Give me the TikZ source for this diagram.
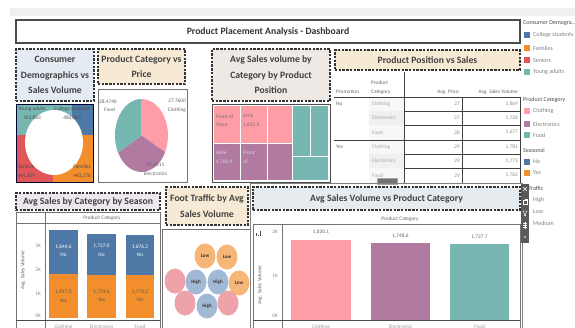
\documentclass[tikz,border=0pt]{standalone}
\usepackage{fontspec}
\setmainfont{Carlito}
\usetikzlibrary{shapes.geometric}
\newcommand\myfs[2]{\fontsize{#1}{#2}\selectfont}
\definecolor{tblue}{HTML}{4E79A7}
\definecolor{torange}{HTML}{F28E2B}
\definecolor{tred}{HTML}{E15759}
\definecolor{tteal}{HTML}{76B7B2}
\definecolor{tpink}{HTML}{FF9DA7}
\definecolor{tpurple}{HTML}{B07AA1}
\definecolor{fblue}{HTML}{E4EBF3}
\definecolor{fbeige}{HTML}{F7EAD5}
\definecolor{fgrey}{HTML}{EEE9E5}
\definecolor{flav}{HTML}{EFE7EE}
\definecolor{fsky}{HTML}{E6EBF0}
\definecolor{bor}{HTML}{F5B677}
\definecolor{bbl}{HTML}{A2B9D5}
\definecolor{bpk}{HTML}{EDA3A9}
\begin{document}
\begin{tikzpicture}[x=1pt,y=-1pt,
  ttl/.style={draw=black!80, line width=1.2pt, dash pattern=on 2.4pt off 1.3pt, inner sep=0pt, align=center, font=\bfseries\myfs{9.7}{15.5}, text=black!75},
  panel/.style={draw=black!55, line width=0.7pt},
  txt/.style={inner sep=0pt, font=\myfs{5.3}{6}, text=black!60},
  tb/.style={inner sep=0pt, font=\myfs{5.3}{9}, text=black!60},
  tcat/.style={inner sep=0pt, font=\myfs{5.3}{9}, text=black!35, anchor=west},
  tval/.style={inner sep=0pt, font=\myfs{5.3}{9}, text=black!45, anchor=east},
  lg/.style={inner sep=0pt, font=\myfs{6}{7}, text=black!50, anchor=west},
  lgt/.style={inner sep=0pt, font=\myfs{6}{7}, text=black!70, anchor=west},
  dl/.style={inner sep=0pt, font=\myfs{5.3}{8.5}, text=black!70, align=center},
  bub/.style={ellipse, minimum width=21pt, minimum height=25pt, inner sep=0pt, font=\bfseries\myfs{5}{5.5}, text=black!80},
  grid/.style={draw=black!75, line width=0.6pt}
]
\useasboundingbox (0,0) rectangle (575,327);
\fill[white] (0,0) rectangle (575,327);
% top band
\fill[black!6] (10,8) rectangle (575,16);

% main title
\node[draw=black!70, line width=1.1pt, fill=white, minimum width=504pt, minimum height=23pt, inner sep=0pt, font=\bfseries\myfs{9.7}{10}, text=black!80] (main) at (268,31.5) {Product Placement Analysis - Dashboard};

% section titles
\node[ttl, fill=fblue, minimum width=78pt, minimum height=52pt] (cdem) at (55,75) {Consumer\\Demographics vs\\Sales Volume};
\node[ttl, fill=fbeige, minimum width=87pt, minimum height=35pt] (pcp) at (141.5,66.5) {Product Category vs\\Price};
\node[ttl, fill=fgrey, minimum width=118pt, minimum height=52pt] (asv) at (271,75) {Avg Sales volume by\\Category by Product\\Position};
\node[ttl, fill=fbeige, minimum width=185pt, minimum height=20pt] (pps) at (427.5,60) {Product Position vs Sales};
\node[ttl, fill=flav, minimum width=144pt, minimum height=17pt] (ascs) at (88,201.5) {Avg Sales by Category by Season};
\node[ttl, fill=fbeige, minimum width=82pt, minimum height=38pt] (ftv) at (207,206) {Foot Traffic by Avg\\Sales Volume};

% ---------- donut ----------
\fill[tteal] (16,104) rectangle (72,135);
\fill[tblue] (72,104) rectangle (93,137);
\fill[tred] (16,135) rectangle (53,182);
\fill[torange] (53,137) rectangle (93,182);
\fill[torange] (72,135) rectangle (93,137);
\fill[white] (54,142.5) ellipse [x radius=29, y radius=32.5];
\draw[draw=black!80!blue, line width=0.9pt] (16,104) rectangle (93,182);
\node[dl] (d1) at (32,113.5) {Young adults\\421,883};
\node[dl] (d2) at (72,113.5) {College students\\450,063};
\node[dl] (d3) at (26,171.5) {Seniors\\444,389};
\node[dl] (d4) at (82,171.5) {Families\\443,276};

% ---------- pie ----------
\draw[panel] (98,89) rectangle (187,182);
\fill[tpink] (141.5,135.5) -- ++(-90:26.5 and 36.5) arc[start angle=-90, end angle=27, x radius=26.5, y radius=36.5] -- cycle;
\fill[tpurple] (141.5,135.5) -- ++(27:26.5 and 36.5) arc[start angle=27, end angle=152, x radius=26.5, y radius=36.5] -- cycle;
\fill[tteal] (141.5,135.5) -- ++(152:26.5 and 36.5) arc[start angle=152, end angle=270, x radius=26.5, y radius=36.5] -- cycle;
\node[dl, align=left, anchor=west, text=black!60] (p1) at (99,105.5) {28.4740\\\hspace*{5pt}Food};
\node[dl, align=right, anchor=east, text=black!60] (p2) at (186,105.5) {27.7600\\Clothing};
\node[dl, text=black!60] (p3) at (155.5,169.5) {27.4511\\Electronics};

% ---------- treemap ----------
\draw[draw=black!70, line width=0.8pt] (212,104) rectangle (330,182);
\fill[tpink] (214,106) rectangle (292,143);
\fill[tpurple] (214,143) rectangle (292,180);
\fill[tteal] (292,106) rectangle (328,180);
\draw[white, line width=0.6pt] (214,143) -- (292,143) (240,106) -- (240,180) (267,106) -- (267,180) (292,106) -- (292,180) (310,106) -- (310,156) (292,156) -- (328,156);
\node[dl, align=left, anchor=west, text=black!55] (t1) at (216,120.5) {Front of\\Store};
\node[dl, align=left, anchor=west, text=black!55] (t2) at (243,120.5) {Aisle\\1,832.8};
\node[dl, align=left, anchor=west, text=white!85!black] (t3) at (216,157.5) {Aisle\\1,760.9};
\node[dl, align=left, anchor=west, text=white!85!black] (t4) at (243,157.5) {Front\\of};

% ---------- table ----------
\fill[black!6] (369,111) rectangle (404,125);
\fill[black!6] (369,154) rectangle (404,168);
\fill[black!3] (369,97) rectangle (404,111);
\fill[black!3] (369,125) rectangle (404,140);
\fill[black!3] (369,140) rectangle (404,154);
\fill[black!3] (369,168) rectangle (404,183);
\draw[grid] (404,72) -- (404,183);
\draw[grid] (334,97) -- (520,97);
\draw[grid, line width=0.9pt] (334,140) -- (520,140);
\draw[grid] (404,111) -- (520,111) (404,125) -- (520,125) (404,154) -- (520,154) (404,168) -- (520,168) (404,183) -- (520,183);
\draw[grid] (462,97) -- (462,183) (520,97) -- (520,183);
\node[tb, anchor=west] (hprom) at (336,92) {Promotion};
\node[tb, anchor=west, align=left] (hcat) at (371,87.5) {Product\\Category};
\node[tb, anchor=east] (hpr) at (459,92) {Avg. Price};
\node[tb, anchor=east] (hvol) at (518,92) {Avg. Sales Volume};
\node[tb, anchor=west] (pno) at (336,103.5) {No};
\node[tb, anchor=west] (pyes) at (336,147) {Yes};
\node[tcat] (c1) at (372,104) {Clothing};
\node[tcat] (c2) at (372,118) {Electronics};
\node[tcat] (c3) at (372,132.5) {Food};
\node[tcat] (c4) at (372,147) {Clothing};
\node[tcat] (c5) at (372,161) {Electronics};
\node[tcat] (c6) at (372,175.5) {Food};
\node[tval] (v1) at (460,104) {27};
\node[tval] (v2) at (460,118) {27};
\node[tval] (v3) at (460,132.5) {28};
\node[tval] (v4) at (460,147) {29};
\node[tval] (v5) at (460,161) {29};
\node[tval] (v6) at (460,175.5) {29};
\node[tval] (w1) at (518,104) {1,869};
\node[tval] (w2) at (518,118) {1,726};
\node[tval] (w3) at (518,132.5) {1,677};
\node[tval] (w4) at (518,147) {1,781};
\node[tval] (w5) at (518,161) {1,773};
\node[tval] (w6) at (518,175.5) {1,762};
\draw[fill=black!55, draw=black!35, line width=0.5pt] (377,178.5) rectangle (397,184);

% ---------- legend ----------
\node[lgt] (lgh1) at (523,23) {Consumer Demogra..};
\fill[tblue] (524,32) rectangle (530,38);   \node[lg] (lg1) at (533,35) {College students};
\fill[torange] (524,45) rectangle (530,51); \node[lg] (lg2) at (533,48) {Families};
\fill[tred] (524,57) rectangle (530,63);    \node[lg] (lg3) at (533,60) {Seniors};
\fill[tteal] (524,69) rectangle (530,75);   \node[lg] (lg4) at (533,72) {Young adults};
\node[lgt] (lgh2) at (523,100) {Product Category};
\fill[tpink] (524,108) rectangle (530,114);   \node[lg] (lg5) at (533,111) {Clothing};
\fill[tpurple] (524,121) rectangle (530,127); \node[lg] (lg6) at (533,124) {Electronics};
\fill[tteal] (524,132) rectangle (530,138);   \node[lg] (lg7) at (533,135) {Food};
\node[lgt] (lgh3) at (523,150) {Seasonal};
\fill[tblue] (524,159) rectangle (530,165);   \node[lg] (lg8) at (533,162) {No};
\fill[torange] (524,170) rectangle (530,176); \node[lg] (lg9) at (533,173) {Yes};
\node[lgt] (lgh4) at (516,188) {Foot Traffic};
\node[lg] (lg10) at (533,200) {High};
\node[lg] (lg11) at (533,212) {Low};
\node[lg] (lg12) at (533,223) {Medium};

% ---------- bottom left: stacked bars ----------
\draw[panel] (16,212) rectangle (160,330);
\draw[panel] (16,223) -- (160,223) (45,212) -- (45,330);
\draw[draw=black!70, line width=0.7pt] (16,320) -- (160,320);
\node[txt] (bl0) at (102,218) {Product Category};
\node[txt, rotate=90] (bly) at (23,270) {Avg. Sales Volume};
\node[txt, anchor=east, text=black!45] (bk3) at (41,246) {3K};
\node[txt, anchor=east, text=black!45] (bk2) at (41,270) {2K};
\node[txt, anchor=east, text=black!45] (bk1) at (41,294) {1K};
\node[txt, anchor=east, text=black!45] (bk0) at (41,316) {0K};
\fill[torange] (49,274.4) rectangle (78,318);
\fill[tblue] (49,229.5) rectangle (78,274.4);
\fill[torange] (87,275.4) rectangle (116,318);
\fill[tblue] (87,233.5) rectangle (116,275.4);
\fill[torange] (126,275.4) rectangle (154,318);
\fill[tblue] (126,234.5) rectangle (154,275.4);
\node[dl, text=white] (s1) at (63.5,250.5) {1,844.6\\No};
\node[dl, text=white] (s2) at (101.5,250.5) {1,727.0\\No};
\node[dl, text=white] (s3) at (140,250.5) {1,676.2\\No};
\node[dl, text=black!65] (s4) at (63.5,296) {1,817.3\\Yes};
\node[dl, text=black!65] (s5) at (101.5,296) {1,774.0\\Yes};
\node[dl, text=black!65] (s6) at (140,296) {1,773.2\\Yes};
\node[txt, anchor=north, text=black!40] (sx1) at (63.5,324.5) {Clothing};
\node[txt, anchor=north, text=black!40] (sx2) at (101.5,324.5) {Electronics};
\node[txt, anchor=north, text=black!40] (sx3) at (140,324.5) {Food};

% ---------- bubbles ----------
\draw[panel] (162,229) rectangle (250,330);
\node[bub, fill=bor] (b1) at (205,256) {Low};
\node[bub, fill=bor] (b2) at (227,257) {Low};
\node[bub, fill=bpk] (b3) at (175,281) {};
\node[bub, fill=bbl] (b4) at (196,282) {High};
\node[bub, fill=bbl] (b5) at (218,282) {High};
\node[bub, fill=bor] (b6) at (239,283) {Low};
\node[bub, fill=bpk] (b7) at (185,303) {};
\node[bub, fill=bpk] (b9) at (228,303) {};
\node[bub, fill=bbl] (b8) at (207,306) {High};

% ---------- right bar chart ----------
\draw[draw=black!50, line width=0.8pt] (250,183) rectangle (522,330);
\node[ttl, fill=fsky, minimum width=267pt, minimum height=23pt] (avpc) at (386.5,198.5) {Avg Sales Volume vs Product Category};
\node[txt] (rl0) at (400,219) {Product Category};
\draw[panel] (253,224) rectangle (520,330);
\draw[panel] (282,224) -- (282,330);
\draw[draw=black!70, line width=0.7pt] (253,320) -- (520,320);
\node[txt, anchor=east, text=black!45] (rk2) at (278,232) {2K};
\node[txt, anchor=east, text=black!45] (rk1) at (278,276) {1K};
\node[txt, anchor=east, text=black!45] (rk0) at (278,316) {0K};
\node[txt, rotate=90] (rly) at (260,285) {Avg. Sales Volume};
\draw[black!70, line width=0.6pt] (256.5,236) -- (256.5,232.5) (258.5,236) -- (258.5,234.5) (260.5,236) -- (260.5,231);
\fill[tpink] (291,239.5) rectangle (351,320);
\fill[tpurple] (371,243.1) rectangle (430,320);
\fill[tteal] (450,244) rectangle (509,320);
\node[txt] (r1) at (321,232) {1,830.1};
\node[txt] (r2) at (400.5,236) {1,748.6};
\node[txt] (r3) at (479.5,237) {1,727.7};
\node[txt, anchor=north, text=black!40] (rx1) at (321,324.5) {Clothing};
\node[txt, anchor=north, text=black!40] (rx2) at (400.5,324.5) {Electronics};
\node[txt, anchor=north, text=black!40] (rx3) at (479.5,324.5) {Food};

% ---------- toolbar ----------
\fill[black!65] (521,184) rectangle (529,243);
\draw[white, line width=0.5pt] (523.3,187) -- (526.7,191) (523.3,191) -- (526.7,187);
\draw[white, line width=0.4pt] (523.3,200) rectangle (526.7,204) (524.5,199) -- (527.5,199) -- (527.5,202);
\draw[white, line width=0.4pt] (523,211) -- (527,211) -- (525.6,213.5) -- (525.6,216) -- (524.4,215.5) -- (524.4,213.5) -- cycle;
\draw[white, line width=0.4pt] (523,223) -- (527,223) (523,225) -- (527,225) (523,227) -- (527,227) (525,221.5) -- (525,228.5);
\fill[white] (525,237) circle (0.9);
\end{tikzpicture}
\end{document}
